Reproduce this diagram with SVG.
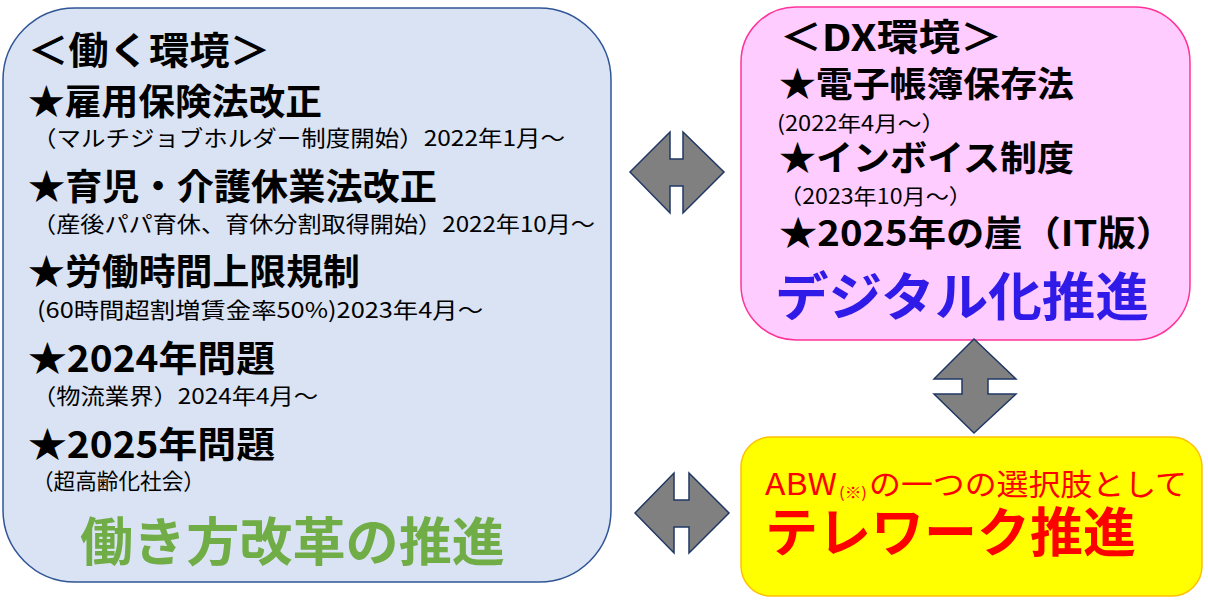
<svg xmlns="http://www.w3.org/2000/svg" width="1208" height="601" viewBox="0 0 1208 601">
<style>
.jp{font-family:"Noto Sans CJK JP","Noto Sans",sans-serif}
.h{font-weight:700;fill:#000}
.s{font-weight:400;fill:#000}
.arr{fill:#808080;stroke:#1F3864;stroke-width:1.5;stroke-linejoin:miter}
</style>
<rect width="1208" height="601" fill="#fff"/>
<g id="node-work">
<rect x="3" y="8" width="608" height="574" rx="72" ry="72" fill="#DAE3F3" stroke="#2F5597" stroke-width="1.5"/>
<text class="jp h" x="28" y="64" font-size="38" textLength="242" lengthAdjust="spacingAndGlyphs">＜働く環境＞</text>
<text class="jp h" x="28" y="115" font-size="36" textLength="294" lengthAdjust="spacingAndGlyphs">★雇用保険法改正</text>
<text class="jp s" x="32" y="146" font-size="22" textLength="533" lengthAdjust="spacingAndGlyphs">（マルチジョブホルダー制度開始）2022年1月～</text>
<text class="jp h" x="28" y="200" font-size="36" textLength="409" lengthAdjust="spacingAndGlyphs">★育児・介護休業法改正</text>
<text class="jp s" x="32" y="232" font-size="22" textLength="563" lengthAdjust="spacingAndGlyphs">（産後パパ育休、育休分割取得開始）2022年10月～</text>
<text class="jp h" x="28" y="285" font-size="36" textLength="332" lengthAdjust="spacingAndGlyphs">★労働時間上限規制</text>
<text class="jp s" x="37" y="318" font-size="22" textLength="446" lengthAdjust="spacingAndGlyphs">(60時間超割増賃金率50%)2023年4月～</text>
<text class="jp h" x="28" y="372" font-size="36" textLength="247" lengthAdjust="spacingAndGlyphs">★2024年問題</text>
<text class="jp s" x="32" y="404" font-size="22" textLength="286" lengthAdjust="spacingAndGlyphs">（物流業界）2024年4月～</text>
<text class="jp h" x="28" y="458" font-size="36" textLength="247" lengthAdjust="spacingAndGlyphs">★2025年問題</text>
<text class="jp s" x="32" y="489" font-size="22" textLength="173" lengthAdjust="spacingAndGlyphs">（超高齢化社会）</text>
<text class="jp" x="80" y="561" font-size="52" font-weight="700" fill="#70AD47" textLength="425" lengthAdjust="spacingAndGlyphs">働き方改革の推進</text>
</g>
<g id="node-dx">
<rect x="741" y="7" width="449" height="333" rx="55" ry="55" fill="#FFCCFF" stroke="#FF3399" stroke-width="1.5"/>
<text class="jp h" x="780" y="51" font-size="37" textLength="222" lengthAdjust="spacingAndGlyphs">＜DX環境＞</text>
<text class="jp h" x="779" y="97" font-size="35" textLength="295" lengthAdjust="spacingAndGlyphs">★電子帳簿保存法</text>
<text class="jp s" x="777" y="131" font-size="21" textLength="168" lengthAdjust="spacingAndGlyphs">(2022年4月～）</text>
<text class="jp h" x="779" y="171" font-size="35" textLength="295" lengthAdjust="spacingAndGlyphs">★インボイス制度</text>
<text class="jp s" x="779" y="204" font-size="21" textLength="193" lengthAdjust="spacingAndGlyphs">（2023年10月～）</text>
<text class="jp h" x="779" y="246" font-size="35" textLength="395" lengthAdjust="spacingAndGlyphs">★2025年の崖（IT版）</text>
<text class="jp" x="775" y="316" font-size="52" font-weight="700" fill="#2F1AE8" textLength="374" lengthAdjust="spacingAndGlyphs">デジタル化推進</text>
</g>
<g id="node-telework">
<rect x="741" y="437" width="461" height="159" rx="30" ry="30" fill="#FFFF00" stroke="#FFC000" stroke-width="1.5"/>
<text class="jp" x="765" y="495" font-size="30" fill="#FF0000" textLength="72" lengthAdjust="spacingAndGlyphs">ABW</text>
<text class="jp" x="839" y="498" font-size="15" fill="#FF0000" textLength="28" lengthAdjust="spacingAndGlyphs">(※)</text>
<text class="jp" x="869" y="495" font-size="30" fill="#FF0000" textLength="318" lengthAdjust="spacingAndGlyphs">の一つの選択肢として</text>
<text class="jp" x="765" y="552" font-size="53" font-weight="700" fill="#FF0000" textLength="371" lengthAdjust="spacingAndGlyphs">テレワーク推進</text>
</g>
<g id="connectors">
<polygon class="arr" points="630,172 670,132 670,159 683,159 683,132 724,172 683,213 683,186 670,186 670,213"/>
<polygon class="arr" points="974,339 1016,379 988,379 988,394 1016,394 974,433 934,394 962,394 962,379 934,379"/>
<polygon class="arr" points="635,513 674,473 674,500 689,500 689,473 729,513 689,553 689,527 674,527 674,553"/>
</g>
</svg>
